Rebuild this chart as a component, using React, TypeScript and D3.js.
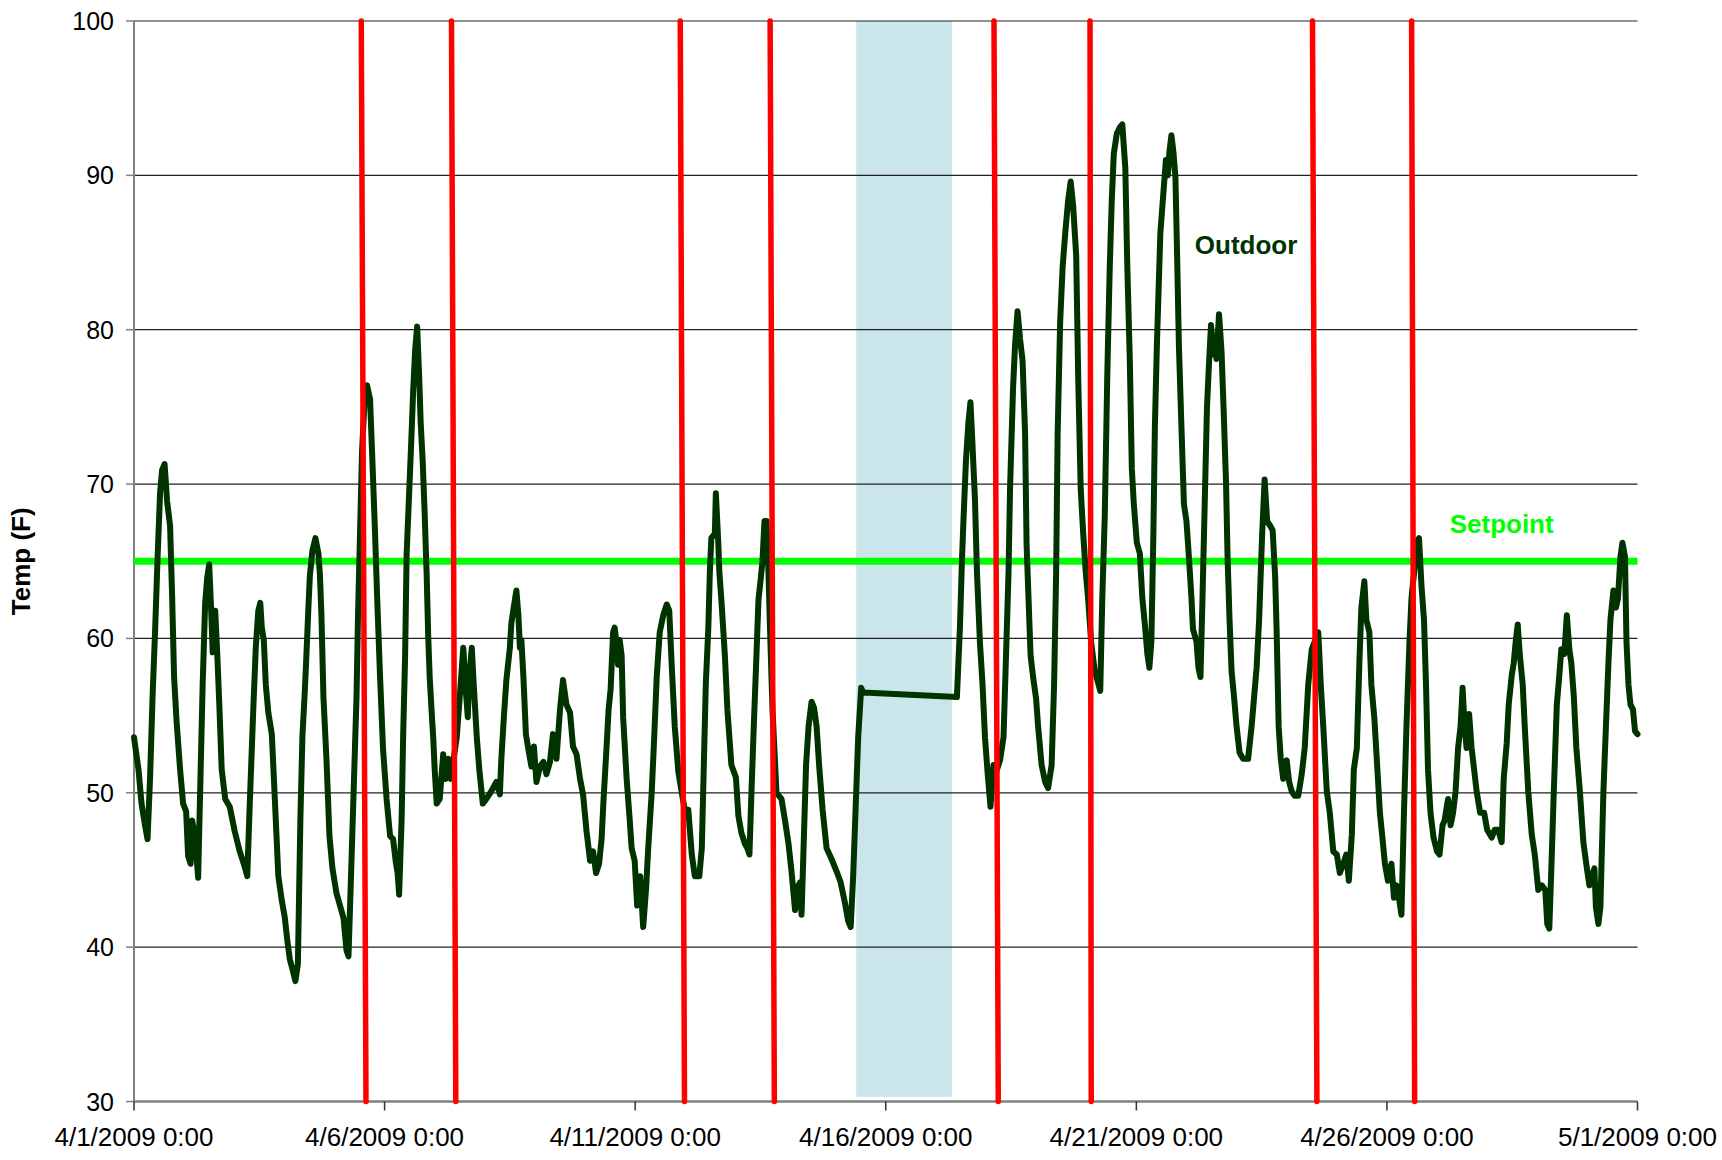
import React, { useEffect } from 'react';
import * as d3 from 'd3';

const START = Date.UTC(2009, 3, 1);
const DAY = 86400000;
const toDate = (d: number) => new Date(START + d * DAY);

const xTickDays = [0, 5, 10, 15, 20, 25, 30];
const yTicks = [30, 40, 50, 60, 70, 80, 90, 100];
const setpoint = 65;
const redTopDays = [4.535, 6.335, 10.9, 12.693, 17.16, 19.076, 23.515, 25.493];
const redBottomDays = [4.629, 6.421, 10.984, 12.777, 17.245, 19.1, 23.603, 25.553];
const shadeDays = [14.41, 16.32];
const shadeTemps = [100, 30.3];
const outdoorLabel = { day: 22.19, temp: 84.9, text: 'Outdoor' };
const setpointLabel = { day: 27.29, temp: 66.8, text: 'Setpoint' };

// [day offset from 4/1/2009 0:00, temperature F]
const outdoor: [number, number][] = [
  [0.0, 53.6], [0.09, 51.5], [0.15, 49.3], [0.22, 47.9], [0.27, 47.0], [0.32, 50.9], [0.37, 56.2], [0.42, 60.4],
  [0.47, 65.2], [0.52, 69.4], [0.56, 70.9], [0.61, 71.3], [0.64, 69.9], [0.66, 68.9], [0.72, 67.3], [0.76, 62.8],
  [0.8, 57.5], [0.85, 54.6], [0.92, 51.5], [0.98, 49.3], [1.04, 48.8], [1.08, 45.9], [1.13, 45.4], [1.16, 48.2],
  [1.22, 47.2], [1.28, 44.5], [1.33, 51.5], [1.37, 57.0], [1.42, 62.3], [1.46, 63.9], [1.5, 64.8], [1.54, 61.8],
  [1.57, 59.1], [1.62, 61.8], [1.66, 59.1], [1.7, 55.9], [1.75, 51.5], [1.82, 49.6], [1.91, 49.1], [2.01, 47.5],
  [2.11, 46.2], [2.21, 45.2], [2.26, 44.6], [2.31, 49.3], [2.38, 55.4], [2.43, 59.4], [2.48, 61.8], [2.52, 62.3],
  [2.55, 60.7], [2.59, 59.9], [2.63, 57.0], [2.68, 55.2], [2.75, 53.8], [2.81, 49.6], [2.88, 44.6], [2.95, 43.0],
  [3.01, 41.9], [3.06, 40.4], [3.11, 39.2], [3.16, 38.6], [3.22, 37.8], [3.27, 38.9], [3.32, 48.3], [3.36, 53.6],
  [3.41, 56.7], [3.44, 58.9], [3.48, 62.0], [3.51, 64.1], [3.56, 65.7], [3.62, 66.5], [3.68, 65.5], [3.71, 64.1],
  [3.74, 61.5], [3.78, 56.2], [3.84, 52.2], [3.9, 47.2], [3.96, 45.1], [4.04, 43.5], [4.11, 42.7], [4.18, 41.9],
  [4.24, 39.8], [4.28, 39.4], [4.34, 45.6], [4.39, 50.9], [4.44, 56.2], [4.47, 61.5], [4.51, 66.8], [4.55, 72.1],
  [4.61, 76.0], [4.65, 76.4], [4.71, 75.5], [4.75, 72.1], [4.81, 66.8], [4.85, 62.8], [4.91, 57.5], [4.97, 52.8],
  [5.04, 49.6], [5.11, 47.2], [5.17, 47.0], [5.22, 45.6], [5.26, 44.8], [5.29, 43.4], [5.34, 48.3], [5.37, 53.6],
  [5.41, 58.9], [5.44, 65.5], [5.49, 69.4], [5.54, 73.4], [5.57, 76.0], [5.61, 78.7], [5.65, 80.2], [5.69, 77.0],
  [5.72, 74.0], [5.76, 71.5], [5.8, 68.1], [5.84, 64.1], [5.87, 60.2], [5.9, 57.5], [5.94, 55.2], [5.97, 53.6],
  [6.0, 51.5], [6.04, 49.3], [6.1, 49.6], [6.17, 52.5], [6.22, 50.9], [6.27, 52.2], [6.32, 50.9], [6.37, 52.0],
  [6.44, 53.6], [6.5, 56.2], [6.57, 59.4], [6.62, 56.7], [6.66, 54.9], [6.69, 57.5], [6.74, 59.4], [6.77, 57.5],
  [6.84, 53.6], [6.89, 51.5], [6.96, 49.3], [7.03, 49.6], [7.13, 50.1], [7.23, 50.7], [7.3, 49.9], [7.33, 52.2],
  [7.38, 54.9], [7.43, 57.3], [7.5, 59.4], [7.53, 61.0], [7.6, 62.5], [7.63, 63.1], [7.67, 61.5], [7.7, 59.4],
  [7.73, 59.9], [7.77, 57.5], [7.82, 53.8], [7.87, 52.8], [7.93, 51.7], [7.98, 53.0], [8.03, 50.7], [8.1, 51.7],
  [8.17, 52.0], [8.23, 51.2], [8.3, 52.0], [8.36, 53.8], [8.43, 52.2], [8.5, 55.4], [8.56, 57.3], [8.63, 55.7],
  [8.7, 55.2], [8.76, 53.0], [8.83, 52.5], [8.9, 50.9], [8.96, 49.9], [9.03, 47.5], [9.1, 45.6], [9.16, 46.2],
  [9.22, 44.8], [9.28, 45.4], [9.33, 47.0], [9.37, 49.6], [9.43, 53.0], [9.47, 55.4], [9.51, 56.7], [9.56, 60.4],
  [9.59, 60.7], [9.62, 59.9], [9.66, 58.3], [9.69, 59.9], [9.73, 58.9], [9.76, 54.9], [9.83, 50.9], [9.89, 48.3],
  [9.93, 46.4], [9.99, 45.6], [10.04, 42.7], [10.1, 44.6], [10.16, 41.3], [10.22, 43.9], [10.26, 46.4], [10.33, 50.0],
  [10.38, 53.6], [10.43, 57.5], [10.49, 60.4], [10.56, 61.5], [10.63, 62.2], [10.68, 61.8], [10.73, 58.2], [10.79, 54.3],
  [10.86, 51.4], [10.93, 50.0], [10.99, 48.9], [11.06, 48.9], [11.13, 46.0], [11.19, 44.6], [11.28, 44.6], [11.33, 46.4],
  [11.37, 51.8], [11.41, 57.1], [11.46, 60.7], [11.49, 64.3], [11.52, 66.5], [11.59, 66.8], [11.61, 69.4], [11.66, 66.1],
  [11.68, 64.3], [11.72, 62.5], [11.79, 58.9], [11.84, 55.4], [11.92, 51.8], [12.01, 51.0], [12.06, 48.5], [12.12, 47.4],
  [12.19, 46.7], [12.24, 46.4], [12.28, 46.0], [12.32, 50.0], [12.37, 54.6], [12.42, 58.9], [12.46, 62.5], [12.51, 64.0],
  [12.54, 65.0], [12.58, 67.6], [12.62, 67.6], [12.66, 64.3], [12.69, 60.7], [12.74, 55.4], [12.82, 50.0], [12.92, 49.6],
  [12.99, 48.2], [13.06, 46.7], [13.12, 44.9], [13.19, 42.4], [13.24, 43.9], [13.29, 44.2], [13.32, 42.1], [13.36, 46.4],
  [13.41, 51.8], [13.46, 54.3], [13.52, 55.9], [13.57, 55.5], [13.62, 54.3], [13.67, 51.8], [13.74, 48.9], [13.82, 46.4],
  [13.92, 45.7], [14.02, 44.9], [14.1, 44.2], [14.19, 42.8], [14.25, 41.7], [14.3, 41.3], [14.35, 44.6], [14.41, 50.0],
  [14.45, 53.6], [14.51, 56.8], [14.55, 56.5], [16.42, 56.2], [16.48, 60.7], [16.52, 65.0], [16.55, 67.6], [16.6, 71.5],
  [16.65, 74.0], [16.69, 75.3], [16.73, 72.6], [16.78, 69.0], [16.82, 64.3], [16.88, 59.7], [16.93, 57.1], [16.98, 53.6],
  [17.03, 51.4], [17.09, 49.1], [17.15, 51.8], [17.21, 51.4], [17.28, 52.1], [17.35, 53.6], [17.4, 58.9], [17.45, 64.3],
  [17.48, 69.7], [17.54, 76.2], [17.58, 79.0], [17.63, 81.2], [17.68, 79.4], [17.73, 78.0], [17.78, 73.3], [17.81, 66.1],
  [17.85, 62.5], [17.89, 58.9], [17.94, 57.5], [18.0, 56.1], [18.04, 54.3], [18.11, 51.8], [18.18, 50.7], [18.24, 50.3],
  [18.31, 51.8], [18.36, 57.1], [18.4, 64.3], [18.43, 73.3], [18.48, 80.5], [18.53, 84.1], [18.58, 86.2], [18.64, 88.4],
  [18.69, 89.6], [18.74, 88.0], [18.8, 84.8], [18.84, 76.9], [18.89, 69.7], [18.94, 66.8], [18.99, 64.3], [19.04, 62.5],
  [19.1, 59.7], [19.17, 57.9], [19.24, 57.1], [19.28, 56.6], [19.32, 62.5], [19.37, 67.9], [19.42, 77.0], [19.47, 84.1],
  [19.51, 88.4], [19.55, 91.4], [19.61, 92.7], [19.67, 93.1], [19.72, 93.3], [19.78, 90.5], [19.82, 84.1], [19.87, 78.0],
  [19.91, 71.0], [19.95, 68.7], [20.01, 66.2], [20.07, 65.5], [20.12, 62.6], [20.17, 60.9], [20.22, 59.0], [20.26, 58.1],
  [20.3, 59.8], [20.34, 66.7], [20.37, 73.7], [20.41, 79.0], [20.48, 86.3], [20.55, 89.3], [20.59, 91.0], [20.63, 90.0],
  [20.66, 91.5], [20.7, 92.6], [20.74, 91.5], [20.78, 89.9], [20.81, 85.4], [20.85, 78.9], [20.9, 73.7], [20.95, 68.7],
  [21.0, 67.6], [21.03, 66.2], [21.07, 64.2], [21.1, 62.6], [21.13, 60.6], [21.2, 59.8], [21.24, 58.1], [21.28, 57.5],
  [21.32, 62.6], [21.37, 69.5], [21.41, 75.0], [21.45, 77.8], [21.49, 80.3], [21.54, 78.4], [21.57, 79.5], [21.6, 78.1],
  [21.65, 81.0], [21.7, 78.6], [21.74, 75.0], [21.79, 70.1], [21.82, 65.3], [21.86, 61.2], [21.9, 57.9], [21.95, 56.2],
  [22.0, 54.3], [22.06, 52.6], [22.13, 52.2], [22.23, 52.2], [22.3, 54.3], [22.35, 56.2], [22.4, 58.1], [22.45, 61.2],
  [22.48, 64.0], [22.51, 66.7], [22.56, 70.3], [22.61, 67.6], [22.67, 67.3], [22.72, 67.0], [22.77, 64.0], [22.8, 60.4],
  [22.84, 54.3], [22.88, 52.3], [22.93, 50.9], [23.0, 52.1], [23.05, 50.7], [23.1, 50.1], [23.16, 49.8], [23.23, 49.8],
  [23.3, 51.2], [23.36, 52.9], [23.43, 57.0], [23.5, 59.3], [23.56, 59.8], [23.63, 60.4], [23.68, 57.0], [23.73, 54.3],
  [23.8, 50.1], [23.86, 48.7], [23.93, 46.2], [24.0, 46.0], [24.06, 44.8], [24.13, 45.4], [24.19, 46.0], [24.24, 44.3],
  [24.3, 47.3], [24.34, 51.5], [24.4, 52.9], [24.45, 58.4], [24.49, 62.0], [24.55, 63.7], [24.59, 61.2], [24.65, 60.4],
  [24.69, 57.0], [24.75, 54.8], [24.81, 51.5], [24.86, 48.7], [24.91, 47.1], [24.96, 45.4], [25.02, 44.3], [25.09, 45.4],
  [25.14, 43.2], [25.19, 44.0], [25.24, 43.2], [25.29, 42.1], [25.34, 48.7], [25.39, 54.3], [25.45, 59.8], [25.49, 62.6],
  [25.54, 64.2], [25.59, 66.2], [25.64, 66.5], [25.69, 63.4], [25.74, 61.2], [25.78, 57.0], [25.82, 51.5], [25.87, 48.7],
  [25.93, 47.1], [26.0, 46.2], [26.05, 46.0], [26.11, 47.9], [26.15, 48.2], [26.22, 49.6], [26.27, 47.9], [26.32, 48.7],
  [26.37, 50.1], [26.42, 52.9], [26.47, 54.3], [26.51, 56.8], [26.55, 54.3], [26.59, 52.9], [26.64, 55.1], [26.69, 52.9],
  [26.74, 51.5], [26.79, 50.1], [26.86, 48.7], [26.94, 48.7], [27.0, 47.6], [27.09, 47.1], [27.15, 47.6], [27.22, 47.6],
  [27.29, 46.8], [27.33, 50.9], [27.39, 53.2], [27.43, 55.7], [27.49, 57.6], [27.53, 58.4], [27.57, 59.8], [27.61, 60.9],
  [27.65, 59.0], [27.71, 57.0], [27.75, 54.3], [27.82, 50.1], [27.89, 47.3], [27.95, 46.0], [28.02, 43.7], [28.09, 44.0],
  [28.16, 43.7], [28.2, 41.5], [28.24, 41.2], [28.29, 46.0], [28.33, 50.1], [28.39, 55.7], [28.44, 57.6], [28.48, 59.3],
  [28.54, 59.0], [28.59, 61.5], [28.64, 59.3], [28.68, 58.4], [28.73, 56.2], [28.78, 52.9], [28.85, 50.1], [28.92, 46.8],
  [28.99, 45.1], [29.04, 44.0], [29.09, 44.6], [29.14, 45.1], [29.17, 42.6], [29.22, 41.5], [29.26, 42.6], [29.32, 50.1],
  [29.37, 54.3], [29.42, 58.4], [29.46, 61.2], [29.52, 63.1], [29.57, 62.0], [29.61, 62.6], [29.66, 65.3], [29.7, 66.2],
  [29.75, 65.3], [29.78, 59.8], [29.82, 57.0], [29.86, 55.7], [29.91, 55.4], [29.95, 54.0], [30.0, 53.8],
];

const W = 1722;
const H = 1160;
const LEFT = 134;
const RIGHT = 1637.5;
const TOP = 21;
const BOTTOM = 1101.5;
const FONT = '"Liberation Sans", Arial, Helvetica, sans-serif';

export default function App() {
  useEffect(() => {
    document.body.style.margin = '0';
  }, []);

  const x = d3.scaleUtc().domain([toDate(0), toDate(30)]).range([LEFT, RIGHT]);
  const y = d3.scaleLinear().domain([30, 100]).range([BOTTOM, TOP]);
  const fmt = d3.utcFormat('%-m/%-d/%Y %-H:%M');

  const line = d3
    .line<[number, number]>()
    .x((d) => x(toDate(d[0])))
    .y((d) => y(d[1]));

  return (
    <svg width={W} height={H} style={{ position: 'absolute', left: 0, top: 0, background: '#fff' }} fontFamily={FONT}>
      <rect x={0} y={0} width={W} height={H} fill="#fff" />
      {/* shaded period */}
      <rect
        x={x(toDate(shadeDays[0]))}
        y={y(shadeTemps[0])}
        width={x(toDate(shadeDays[1])) - x(toDate(shadeDays[0]))}
        height={y(shadeTemps[1]) - y(shadeTemps[0])}
        fill="#cbe6ea"
      />
      {/* gridlines */}
      {yTicks.filter((t) => t > 30).map((t) => (
        <line key={'g' + t} x1={LEFT} x2={RIGHT} y1={y(t)} y2={y(t)} stroke="#222" strokeWidth={1.2} />
      ))}
      {/* axes */}
      <line x1={LEFT} x2={LEFT} y1={TOP} y2={BOTTOM} stroke="#808080" strokeWidth={2} />
      <line x1={LEFT} x2={RIGHT} y1={BOTTOM} y2={BOTTOM} stroke="#808080" strokeWidth={2.5} />
      {yTicks.map((t) => (
        <g key={'yt' + t}>
          <line x1={LEFT - 8} x2={LEFT} y1={y(t)} y2={y(t)} stroke="#808080" strokeWidth={1.5} />
          <text x={LEFT - 20} y={y(t)} dy="0.36em" textAnchor="end" fontSize={25} fill="#000">
            {t}
          </text>
        </g>
      ))}
      {xTickDays.map((d) => (
        <g key={'xt' + d}>
          <line x1={x(toDate(d))} x2={x(toDate(d))} y1={BOTTOM} y2={BOTTOM + 9} stroke="#333" strokeWidth={1.5} />
          <text x={x(toDate(d))} y={1146} textAnchor="middle" fontSize={26} fill="#000">
            {fmt(toDate(d))}
          </text>
        </g>
      ))}
      <text
        transform={`translate(30, ${(TOP + BOTTOM) / 2}) rotate(-90)`}
        textAnchor="middle"
        fontSize={26}
        fontWeight="bold"
        fill="#000"
      >
        Temp (F)
      </text>
      {/* setpoint */}
      <line x1={LEFT} x2={RIGHT} y1={y(setpoint)} y2={y(setpoint)} stroke="#00ff00" strokeWidth={7} />
      {/* outdoor temperature */}
      <path d={line(outdoor) || ''} fill="none" stroke="#003300" strokeWidth={6} strokeLinejoin="round" strokeLinecap="round" />
      {/* red markers */}
      {redTopDays.map((d, i) => (
        <line
          key={'r' + i}
          x1={x(toDate(d))}
          y1={y(100)}
          x2={x(toDate(redBottomDays[i]))}
          y2={y(30)}
          stroke="#ff0000"
          strokeWidth={5.5}
          strokeLinecap="round"
        />
      ))}
      <text x={x(toDate(outdoorLabel.day))} y={y(outdoorLabel.temp)} textAnchor="middle" fontSize={26} fontWeight="bold" fill="#003300">
        {outdoorLabel.text}
      </text>
      <text x={x(toDate(setpointLabel.day))} y={y(setpointLabel.temp)} textAnchor="middle" fontSize={26} fontWeight="bold" fill="#00ff00">
        {setpointLabel.text}
      </text>
    </svg>
  );
}
